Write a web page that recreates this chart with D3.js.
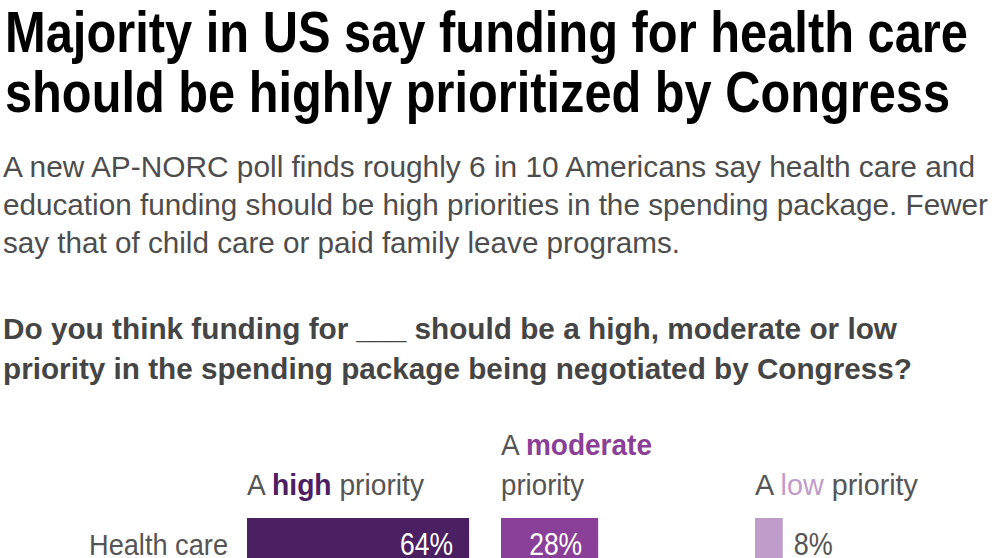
<!DOCTYPE html>
<head>
<meta charset="utf-8">
<title>AP-NORC priorities</title>
<script src="https://cdn.jsdelivr.net/npm/d3@7"></script>
<style>
body { margin: 0; background: #fff; }
svg text { font-family: 'Liberation Sans Narrow', 'Arial Narrow', 'Liberation Sans', Arial, sans-serif; }
</style>
</head>
<body>
<script>
// chart data
var categories = ["Health care"];
var highValues = [64];
var moderateValues = [28];
var lowValues = [8];

var titleLines = ["Majority in US say funding for health care",
                  "should be highly prioritized by Congress"];
var subtitleLines = ["A new AP-NORC poll finds roughly 6 in 10 Americans say health care and",
                     "education funding should be high priorities in the spending package. Fewer",
                     "say that of child care or paid family leave programs."];
var questionLines = ["Do you think funding for ___ should be a high, moderate or low",
                     "priority in the spending package being negotiated by Congress?"];

var width = 992, height = 558;

var svg = d3.select("body").append("svg")
    .attr("width", width)
    .attr("height", height);

// squeeze a text to the width it has in the original (condensed face)
function fit(sel, w) {
    sel.attr("textLength", w).attr("lengthAdjust", "spacingAndGlyphs");
    return sel;
}

// title
var titleW = [963, 945];
titleLines.forEach(function(t, i) {
    fit(svg.append("text")
        .attr("x", 5)
        .attr("y", 52 + i * 60)
        .attr("font-size", "58px")
        .attr("font-weight", "bold")
        .style("fill", "#000")
        .text(t), titleW[i]);
});

// subtitle
var subW = [972, 985, 677];
subtitleLines.forEach(function(t, i) {
    fit(svg.append("text")
        .attr("x", 3)
        .attr("y", 177 + i * 38)
        .attr("font-size", "30px")
        .style("fill", "#4d4d4d")
        .text(t), subW[i]);
});

// question
var qW = [894, 909];
questionLines.forEach(function(t, i) {
    fit(svg.append("text")
        .attr("x", 3)
        .attr("y", 339 + i * 40)
        .attr("font-size", "30px")
        .attr("font-weight", "bold")
        .style("fill", "#454545")
        .text(t), qW[i]);
});

// chart
var colors = { high: "#4b2063", moderate: "#8a3f98", low: "#bf9dcb" };
var series = [
    { key: "high", values: highValues },
    { key: "moderate", values: moderateValues },
    { key: "low", values: lowValues }
];

var colX = d3.scaleBand()
    .domain(series.map(function(s) { return s.key; }))
    .range([247, 1009]);

var x = d3.scaleLinear()
    .domain([0, 100])
    .range([0, 347]);

var rowStep = 66;
var y = d3.scaleBand()
    .domain(categories)
    .range([518, 518 + rowStep * categories.length])
    .paddingInner(0.25)
    .align(0);

var barH = y.bandwidth();

// column headers
var hdr = svg.append("g").attr("font-size", "30px").style("fill", "#555");

fit(hdr.append("text").attr("x", colX("high")).attr("y", 495)
    .call(function(t) {
        t.append("tspan").text("A ");
        t.append("tspan").attr("font-weight", "bold").style("fill", colors.high).text("high");
        t.append("tspan").text(" priority");
    }), 177);

fit(hdr.append("text").attr("x", colX("moderate")).attr("y", 455)
    .call(function(t) {
        t.append("tspan").text("A ");
        t.append("tspan").attr("font-weight", "bold").style("fill", colors.moderate).text("moderate");
    }), 151);
fit(hdr.append("text").attr("x", colX("moderate")).attr("y", 495).text("priority"), 83);

fit(hdr.append("text").attr("x", colX("low")).attr("y", 495)
    .call(function(t) {
        t.append("tspan").text("A ");
        t.append("tspan").style("fill", colors.low).text("low");
        t.append("tspan").text(" priority");
    }), 163);

// row labels
svg.selectAll(".rowlabel")
    .data(categories)
    .enter().append("text")
    .attr("class", "rowlabel")
    .attr("x", 228)
    .attr("y", function(d) { return y(d) + barH / 2 + 12; })
    .attr("text-anchor", "end")
    .attr("font-size", "30px")
    .style("fill", "#555")
    .attr("textLength", 139)
    .attr("lengthAdjust", "spacingAndGlyphs")
    .text(function(d) { return d; });

// bars + value labels
series.forEach(function(s) {
    var g = svg.append("g").attr("transform", "translate(" + colX(s.key) + ",0)");
    var rows = s.values.map(function(v, i) { return { cat: categories[i], v: v }; });

    g.selectAll("rect")
        .data(rows)
        .enter().append("rect")
        .attr("x", 0)
        .attr("y", function(d) { return y(d.cat); })
        .attr("width", function(d) { return x(d.v); })
        .attr("height", barH)
        .style("fill", colors[s.key]);

    // labels go inside the bar when it is wide enough, else just after it
    g.selectAll("text")
        .data(rows)
        .enter().append("text")
        .attr("x", function(d) { return x(d.v) > 60 ? x(d.v) - 16 : x(d.v) + 11; })
        .attr("y", function(d) { return y(d.cat) + barH / 2 + 12; })
        .attr("text-anchor", function(d) { return x(d.v) > 60 ? "end" : "start"; })
        .attr("font-size", "31px")
        .style("fill", function(d) { return x(d.v) > 60 ? "#fff" : "#555"; })
        .attr("textLength", function(d) { return String(d.v).length * 14 + 25; })
        .attr("lengthAdjust", "spacingAndGlyphs")
        .text(function(d) { return d.v + "%"; });
});
</script>
</body>
